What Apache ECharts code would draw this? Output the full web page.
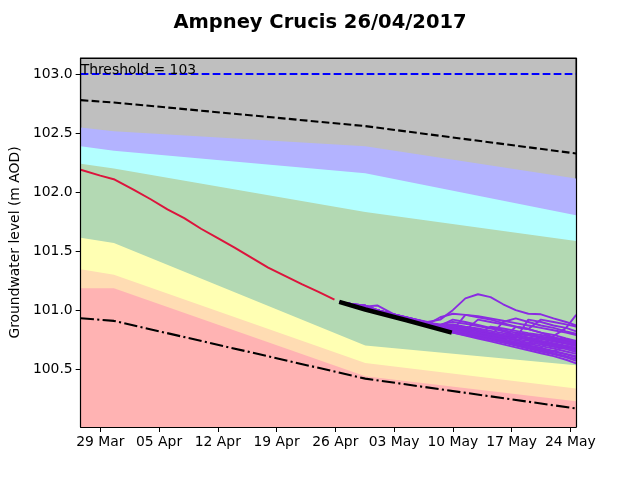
<!DOCTYPE html>
<html>
<head>
<meta charset="utf-8">
<title>Ampney Crucis 26/04/2017</title>
<script src="https://cdn.jsdelivr.net/npm/echarts@6/dist/echarts.min.js"></script>
<style>
  html, body { margin: 0; padding: 0; background: #fff; }
  #chart { width: 640px; height: 480px; }
</style>
</head>
<body>
<div id="chart"></div>
<script>
// x values are days counted from 29 Mar 2017
const tickDays = [0, 7, 14, 21, 28, 35, 42, 49, 56]
const tickLabels = ['29 Mar', '05 Apr', '12 Apr', '19 Apr', '26 Apr', '03 May', '10 May', '17 May', '24 May']
const yTicks = [100.5, 101.0, 101.5, 102.0, 102.5, 103.0]
const threshold = 103

// band boundaries (upper edge of each coloured band)
const bandDays = [-2.34, 1.62, 31.57, 56.68]
const bandLavender = [102.548, 102.517, 102.39, 102.116]
const bandCyan = [102.39, 102.35, 102.16, 101.805]
const bandGreen = [102.24, 102.20, 101.833, 101.587]
const bandYellow = [101.613, 101.57, 100.70, 100.534]
const bandOrange = [101.347, 101.30, 100.553, 100.336]
const bandPink = [101.186, 101.186, 100.44, 100.229]
const upperDashed = [102.78, 102.76, 102.56, 102.328]
const lowerDashDot = [100.932, 100.909, 100.42, 100.167]

// observed levels up to the forecast date
const obsDays = [-2.34, 0, 1.6, 4, 6, 8, 10, 12, 14, 16, 18, 20, 22, 24, 26, 27.9]
const obsLevel = [102.19, 102.14, 102.11, 102.02, 101.94, 101.855, 101.78, 101.69, 101.61, 101.53, 101.445, 101.36, 101.29, 101.22, 101.155, 101.09]

// recent / central forecast (thick black)
const recentDays = [28.47, 31.57, 36.5, 41.88]
const recentLevel = [101.07, 101.006, 100.915, 100.81]

// ensemble forecast members
const ensDays = [28.5, 30, 31.5, 33, 35, 37, 39, 40.5, 42, 43.5, 45, 46.5, 48, 49.5, 51, 52.5, 54, 55.5, 56.7]
const ensMembers = [
  [101.07, 101.04, 101.01, 100.985, 100.95, 100.91, 100.87, 100.84, 100.81, 100.785, 100.76, 100.735, 100.71, 100.685, 100.66, 100.635, 100.61, 100.58, 100.55],
  [101.07, 101.045, 101.02, 100.99, 100.955, 100.92, 100.88, 100.85, 100.825, 100.80, 100.775, 100.75, 100.725, 100.70, 100.675, 100.65, 100.625, 100.60, 100.57],
  [101.07, 101.05, 101.03, 101.0, 100.96, 100.925, 100.89, 100.86, 100.84, 100.815, 100.79, 100.77, 100.745, 100.72, 100.70, 100.675, 100.65, 100.625, 100.60],
  [101.07, 101.05, 101.04, 101.0, 100.965, 100.93, 100.895, 100.87, 100.92, 100.90, 100.875, 100.85, 100.82, 100.79, 100.765, 100.74, 100.71, 100.685, 100.66],
  [101.07, 101.05, 101.03, 101.04, 100.965, 100.93, 100.90, 100.92, 101.0, 101.1, 101.135, 101.11, 101.05, 101.0, 100.97, 100.965, 100.93, 100.90, 100.87],
  [101.07, 101.05, 101.03, 101.0, 100.96, 100.925, 100.89, 100.865, 100.84, 100.82, 100.80, 100.78, 100.90, 100.93, 100.90, 100.87, 100.85, 100.82, 100.80],
  [101.07, 101.045, 101.02, 100.99, 100.955, 100.92, 100.88, 100.94, 100.97, 100.96, 100.94, 100.92, 100.89, 100.86, 100.84, 100.81, 100.79, 100.76, 100.74],
  [101.07, 101.05, 101.03, 101.0, 100.96, 100.925, 100.89, 100.86, 100.85, 100.83, 100.92, 100.90, 100.88, 100.86, 100.84, 100.92, 100.90, 100.88, 100.86],
  [101.07, 101.045, 101.02, 100.99, 100.955, 100.92, 100.88, 100.85, 100.83, 100.96, 100.95, 100.93, 100.91, 100.89, 100.87, 100.85, 100.83, 100.81, 100.79],
  [101.07, 101.04, 101.01, 100.985, 100.95, 100.91, 100.87, 100.845, 100.82, 100.80, 100.78, 100.76, 100.74, 100.72, 100.70, 100.68, 100.78, 100.85, 100.96],
  [101.07, 101.05, 101.03, 101.0, 100.96, 100.925, 100.89, 100.86, 100.84, 100.82, 100.80, 100.78, 100.76, 100.86, 100.84, 100.81, 100.77, 100.74, 100.71],
  [101.07, 101.05, 101.04, 101.0, 100.965, 100.93, 100.895, 100.87, 100.86, 100.84, 100.82, 100.80, 100.78, 100.76, 100.92, 100.90, 100.87, 100.85, 100.82],
  [101.07, 101.045, 101.02, 100.99, 100.955, 100.92, 100.885, 100.86, 100.87, 100.85, 100.83, 100.81, 100.79, 100.77, 100.75, 100.73, 100.71, 100.69, 100.67],
  [101.07, 101.04, 101.01, 100.985, 100.95, 100.91, 100.87, 100.84, 100.815, 100.795, 100.775, 100.75, 100.73, 100.705, 100.68, 100.66, 100.635, 100.61, 100.585],
  [101.07, 101.045, 101.02, 100.99, 100.955, 100.92, 100.88, 100.85, 100.82, 100.80, 100.785, 100.765, 100.745, 100.72, 100.70, 100.68, 100.655, 100.63, 100.61],
  [101.07, 101.05, 101.03, 101.0, 100.96, 100.925, 100.89, 100.86, 100.83, 100.81, 100.79, 100.77, 100.75, 100.73, 100.715, 100.695, 100.675, 100.65, 100.63],
  [101.07, 101.045, 101.02, 100.99, 100.955, 100.92, 100.88, 100.855, 100.835, 100.82, 100.80, 100.785, 100.765, 100.745, 100.725, 100.71, 100.69, 100.67, 100.645],
  [101.07, 101.05, 101.03, 101.0, 100.96, 100.925, 100.89, 100.865, 100.85, 100.83, 100.81, 100.795, 100.775, 100.755, 100.74, 100.72, 100.70, 100.68, 100.66],
  [101.07, 101.05, 101.04, 101.0, 100.965, 100.93, 100.895, 100.87, 100.86, 100.845, 100.83, 100.81, 100.79, 100.775, 100.755, 100.74, 100.72, 100.70, 100.68],
  [101.07, 101.05, 101.03, 101.0, 100.96, 100.925, 100.89, 100.87, 100.88, 100.86, 100.845, 100.825, 100.805, 100.79, 100.77, 100.755, 100.735, 100.715, 100.695],
  [101.07, 101.05, 101.04, 101.0, 100.965, 100.93, 100.895, 100.88, 100.90, 100.885, 100.865, 100.845, 100.83, 100.81, 100.795, 100.775, 100.76, 100.74, 100.72],
  [101.07, 101.045, 101.02, 100.99, 100.955, 100.92, 100.88, 100.85, 100.82, 100.80, 100.78, 100.76, 100.74, 100.80, 100.785, 100.765, 100.745, 100.725, 100.70],
  [101.07, 101.05, 101.03, 101.0, 100.96, 100.925, 100.89, 100.86, 100.84, 100.82, 100.80, 100.86, 100.845, 100.825, 100.805, 100.79, 100.77, 100.75, 100.73],
  [101.07, 101.04, 101.01, 100.985, 100.95, 100.91, 100.87, 100.84, 100.81, 100.79, 100.77, 100.75, 100.73, 100.71, 100.69, 100.67, 100.65, 100.70, 100.68],
  [101.07, 101.045, 101.02, 100.99, 100.955, 100.92, 100.88, 100.85, 100.83, 100.81, 100.79, 100.77, 100.75, 100.73, 100.71, 100.77, 100.75, 100.73, 100.71]
]

const font = 'DejaVu Sans'
const pairs = (xs, ys) => xs.map((x, i) => [x, ys[i]])

const chart = echarts.init(document.getElementById('chart'), null, { renderer: 'canvas' })

const band = (name, values, color) => ({
  name,
  type: 'line',
  data: pairs(bandDays, values),
  symbol: 'none',
  lineStyle: { width: 0 },
  areaStyle: { color, opacity: 1, origin: 'start' },
  silent: true
})

const series = [
  band('lavender', bandLavender, '#b3b3ff'),
  band('cyan', bandCyan, '#b3ffff'),
  band('green', bandGreen, '#b3d9b3'),
  band('yellow', bandYellow, '#ffffb3'),
  band('orange', bandOrange, '#ffdcb3'),
  band('pink', bandPink, '#ffb3b3'),
  {
    name: 'upper',
    type: 'line',
    data: pairs(bandDays, upperDashed),
    symbol: 'none',
    lineStyle: { color: '#000', width: 2.1, type: [7.7, 3.3] },
    markLine: {
      silent: true,
      symbol: 'none',
      data: [{ yAxis: threshold }],
      lineStyle: { color: '#0000ff', width: 2.1, type: [7.7, 3.3] },
      label: {
        position: 'insideStartTop',
        formatter: 'Threshold = ' + threshold,
        color: '#000',
        fontSize: 13.9,
        fontFamily: font,
        distance: [0, -3]
      }
    }
  },
  {
    name: 'lower',
    type: 'line',
    data: pairs(bandDays, lowerDashDot),
    symbol: 'none',
    lineStyle: { color: '#000', width: 2.1, type: [13.3, 3.3, 2.1, 3.3] }
  }
]

ensMembers.forEach((m, i) => {
  series.push({
    name: 'member ' + (i + 1),
    type: 'line',
    data: pairs(ensDays, m),
    symbol: 'none',
    lineStyle: { color: '#8a2be2', width: 1.9 }
  })
})

series.push({
  name: 'recent',
  type: 'line',
  data: pairs(recentDays, recentLevel),
  symbol: 'none',
  lineStyle: { color: '#000', width: 4.5 }
})

series.push({
  name: 'observed',
  type: 'line',
  data: pairs(obsDays, obsLevel),
  symbol: 'none',
  lineStyle: { color: '#dc143c', width: 2 }
})

const xMin = -2.34
const xMax = 56.68
const yMin = 100.01
const yMax = 103.137

const option = {
  animation: false,
  backgroundColor: '#fff',
  title: {
    text: 'Ampney Crucis 26/04/2017',
    left: 'center',
    top: 8,
    textStyle: { fontFamily: font, fontSize: 19.5, fontWeight: 'bold', color: '#000' }
  },
  grid: {
    left: 80,
    right: 64,
    top: 58,
    bottom: 53,
    show: true,
    backgroundColor: '#bfbfbf',
    borderColor: '#000',
    borderWidth: 1
  },
  xAxis: [
    {
      type: 'value',
      min: xMin,
      max: xMax,
      z: 5,
      axisLine: { show: true, onZero: false, lineStyle: { color: '#000', width: 1.2 } },
      axisTick: { show: true, inside: false, length: 5, customValues: tickDays, lineStyle: { color: '#000' } },
      axisLabel: {
        customValues: tickDays,
        formatter: v => tickLabels[tickDays.indexOf(v)],
        color: '#000',
        fontSize: 13.9,
        fontFamily: font,
        margin: 8
      },
      splitLine: { show: false }
    },
    {
      type: 'value',
      position: 'top',
      min: xMin,
      max: xMax,
      z: 5,
      axisLine: { show: true, onZero: false, lineStyle: { color: '#000', width: 1.2 } },
      axisTick: { show: false },
      axisLabel: { show: false },
      splitLine: { show: false }
    }
  ],
  yAxis: [
    {
      type: 'value',
      min: yMin,
      max: yMax,
      z: 5,
      name: 'Groundwater level (m AOD)',
      nameLocation: 'middle',
      nameGap: 51,
      nameTextStyle: { fontFamily: font, fontSize: 13.9, color: '#000' },
      axisLine: { show: true, onZero: false, lineStyle: { color: '#000', width: 1.2 } },
      axisTick: { show: true, inside: false, length: 5, customValues: yTicks, lineStyle: { color: '#000' } },
      axisLabel: {
        customValues: yTicks,
        formatter: v => v.toFixed(1),
        color: '#000',
        fontSize: 13.9,
        fontFamily: font,
        margin: 8
      },
      splitLine: { show: false }
    },
    {
      type: 'value',
      position: 'right',
      min: yMin,
      max: yMax,
      z: 5,
      axisLine: { show: true, onZero: false, lineStyle: { color: '#000', width: 1.2 } },
      axisTick: { show: false },
      axisLabel: { show: false },
      splitLine: { show: false }
    }
  ],
  series
}

chart.setOption(option)
</script>
</body>
</html>
